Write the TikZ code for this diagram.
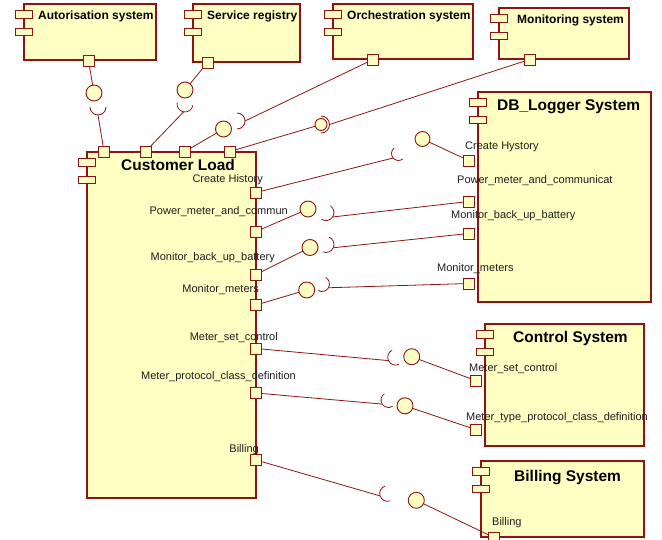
\documentclass[tikz,border=0pt]{standalone}
\usepackage{fontspec}
\setmainfont{Liberation Sans}
\usetikzlibrary{calc}

\definecolor{umlfill}{HTML}{FFFFC4}
\definecolor{umlline}{HTML}{8E1414}
\definecolor{umltext}{HTML}{1E1E1E}

\tikzset{
  comp/.style={draw=umlline, fill=umlfill, line width=1.1pt, anchor=north west,
               inner sep=0pt, outer sep=0pt},
  iconbox/.style={draw=umlline, fill=umlfill, line width=0.9pt},
  port/.style={draw=umlline, fill=umlfill, line width=0.9pt, minimum size=11pt,
               inner sep=0pt, outer sep=0pt},
  ball/.style={circle, draw=umlline, fill=umlfill, line width=0.9pt,
               minimum size=16pt, inner sep=0pt, outer sep=0pt},
  wire/.style={draw=umlline, line width=0.8pt},
  ttl/.style={font=\bfseries\fontsize{12}{14}\selectfont, text=black, inner sep=0pt},
  bigttl/.style={font=\bfseries\fontsize{15.5}{18}\selectfont, text=black, inner sep=0pt},
  lbl/.style={font=\fontsize{11}{13}\selectfont, text=umltext, inner sep=0pt},
}

% two small tabs on the left edge of a component box
\newcommand\compicons[1]{%
  \draw[iconbox] ($(#1.north west)+(-8.5,6.5)$) rectangle ++(17,7.5);
  \draw[iconbox] ($(#1.north west)+(-8.5,24)$) rectangle ++(17,7.5);
}

% required-interface socket: #1 name, #2 centre, #3 direction the opening faces, #4 radius
\newcommand\sockat[4]{%
  \coordinate (#1-c) at (#2);
  \draw[wire] ($(#1-c)+({#3+90}:#4)$) arc[start angle={#3+90}, delta angle=180, radius=#4];
  \coordinate (#1) at ($(#1-c)+({#3+180}:#4)$);
}

\begin{document}
\begin{tikzpicture}[x=1pt, y=-1pt]
\useasboundingbox (0,0) rectangle (662,540);

% ---------------- components ----------------
\node[comp, minimum width=132pt, minimum height=56pt]  (aut) at (24,4)   {};
\node[comp, minimum width=107pt, minimum height=58pt]  (srv) at (193,4)  {};
\node[comp, minimum width=140pt, minimum height=55pt]  (orc) at (333,4)  {};
\node[comp, minimum width=130pt, minimum height=51pt]  (mon) at (499,8)  {};
\node[comp, minimum width=169pt, minimum height=346pt] (cl)  at (87,152) {};
\node[comp, minimum width=173pt, minimum height=210pt] (db)  at (478,92) {};
\node[comp, minimum width=159pt, minimum height=122pt] (ctl) at (485,324){};
\node[comp, minimum width=163pt, minimum height=76pt]  (bil) at (481,461){};

\compicons{aut}\compicons{srv}\compicons{orc}\compicons{mon}
\compicons{cl}\compicons{db}\compicons{ctl}\compicons{bil}

% ---------------- ports ----------------
\node[port] (autp) at (88.5,60.5) {};
\node[port] (srvp) at (207.5,62.5) {};
\node[port] (orcp) at (373,59.5) {};
\node[port] (monp) at (529.5,59.5) {};

\node[port] (clt1) at (104,151.5) {};
\node[port] (clt2) at (145.5,151.5) {};
\node[port] (clt3) at (185,151.5) {};
\node[port] (clt4) at (230,151.5) {};

\node[port] (clr1) at (256,192.5) {};
\node[port] (clr2) at (256,231.5) {};
\node[port] (clr3) at (256,274.5) {};
\node[port] (clr4) at (256,305) {};
\node[port] (clr5) at (256,348.5) {};
\node[port] (clr6) at (256,393) {};
\node[port] (clr7) at (256,460) {};

\node[port] (dbp1) at (468.5,160.5) {};
\node[port] (dbp2) at (468.5,201.5) {};
\node[port] (dbp3) at (468.5,233.5) {};
\node[port] (dbp4) at (468.5,283.5) {};

\node[port] (ctlp1) at (475.5,380.5) {};
\node[port] (ctlp2) at (475.5,429.5) {};

\node[port] (bilp) at (494,537.5) {};

% ---------------- provided interfaces (balls) ----------------
\node[ball] (autb) at (94,93) {};
\node[ball] (srvb) at (185,90) {};
\node[ball] (orcb) at (223.5,129) {};
\node[ball, minimum size=12pt] (monb) at (321,124.5) {};
\node[ball, minimum size=15pt] (dbb1) at (422.5,139) {};
\node[ball] (dbb2) at (308,209) {};
\node[ball] (dbb3) at (310,247.5) {};
\node[ball] (dbb4) at (306.7,290) {};
\node[ball] (ctlb1) at (411.7,356.7) {};
\node[ball] (ctlb2) at (405,405.8) {};
\node[ball] (bilb) at (416.3,500.3) {};

% ---------------- required interfaces (sockets) ----------------
\sockat{auts}{98,107}{-90}{8}
\sockat{srvs}{185,104}{-80}{8}
\sockat{orcs}{237,121}{180}{8}
\sockat{mons}{321,124.5}{180}{8.5}
\sockat{dbs1}{398.5,153.5}{-40}{7}
\sockat{dbs2}{326,212.5}{214}{8}
\sockat{dbs3}{326,244.5}{204}{8}
\sockat{dbs4}{322,284}{210}{7.5}
\sockat{ctls1}{395.5,357.3}{-25}{7.8}
\sockat{ctls2}{388.5,400}{-33}{7.5}
\sockat{bils}{387.5,493.5}{-18}{7.8}

% ---------------- connectors ----------------
\draw[wire] (autp) -- (autb);
\draw[wire] (auts) -- (clt1);
\draw[wire] (srvp) -- (srvb);
\draw[wire] (srvs) -- (clt2);
\draw[wire] (orcs) -- (orcp);
\draw[wire] (orcb) -- (clt3);
\draw[wire] (mons) -- (monp);
\draw[wire] (monb) -- (clt4);

\draw[wire] (clr1) -- (dbs1);
\draw[wire] (dbb1) -- (dbp1);
\draw[wire] (clr2) -- (dbb2);
\draw[wire] (dbs2) -- (dbp2);
\draw[wire] (clr3) -- (dbb3);
\draw[wire] (dbs3) -- (dbp3);
\draw[wire] (clr4) -- (dbb4);
\draw[wire] (dbs4) -- (dbp4);

\draw[wire] (clr5) -- (ctls1);
\draw[wire] (ctlb1) -- (ctlp1);
\draw[wire] (clr6) -- (ctls2);
\draw[wire] (ctlb2) -- (ctlp2);

\draw[wire] (clr7) -- (bils);
\draw[wire] (bilb) -- (bilp);

% ---------------- titles ----------------
\node[ttl, anchor=base west] (aut-t) at (38,20)  {Autorisation system};
\node[ttl, anchor=base west] (srv-t) at (207,20) {Service registry};
\node[ttl, anchor=base west] (orc-t) at (347,20) {Orchestration system};
\node[ttl, anchor=base west] (mon-t) at (517,24) {Monitoring system};
\node[bigttl, anchor=base west] (cl-t)  at (121,171) {Customer Load};
\node[bigttl, anchor=base west] (db-t)  at (497,111) {DB\_Logger System};
\node[bigttl, anchor=base west] (ctl-t) at (513,343) {Control System};
\node[bigttl, anchor=base west] (bil-t) at (514,481) {Billing System};

% ---------------- port labels ----------------
\node[lbl, anchor=base east] (cll1) at (263,183) {Create History};
\node[lbl, anchor=base east] (cll2) at (288,215) {Power\_meter\_and\_commun};
\node[lbl, anchor=base east] (cll3) at (275,261) {Monitor\_back\_up\_battery};
\node[lbl, anchor=base east] (cll4) at (259,293) {Monitor\_meters};
\node[lbl, anchor=base east] (cll5) at (278,341) {Meter\_set\_control};
\node[lbl, anchor=base east] (cll6) at (296,380) {Meter\_protocol\_class\_definition};
\node[lbl, anchor=base east] (cll7) at (259,452) {Billing};

\node[lbl, anchor=base west] (dbl1) at (465,150) {Create Hystory};
\node[lbl, anchor=base west] (dbl2) at (457,184) {Power\_meter\_and\_communicat};
\node[lbl, anchor=base west] (dbl3) at (451,219) {Monitor\_back\_up\_battery};
\node[lbl, anchor=base west] (dbl4) at (437,272) {Monitor\_meters};

\node[lbl, anchor=base west] (ctll1) at (469,371) {Meter\_set\_control};
\node[lbl, anchor=base west] (ctll2) at (466,420) {Meter\_type\_protocol\_class\_definition};

\node[lbl, anchor=base west] (bill1) at (492,525) {Billing};
\end{tikzpicture}
\end{document}
